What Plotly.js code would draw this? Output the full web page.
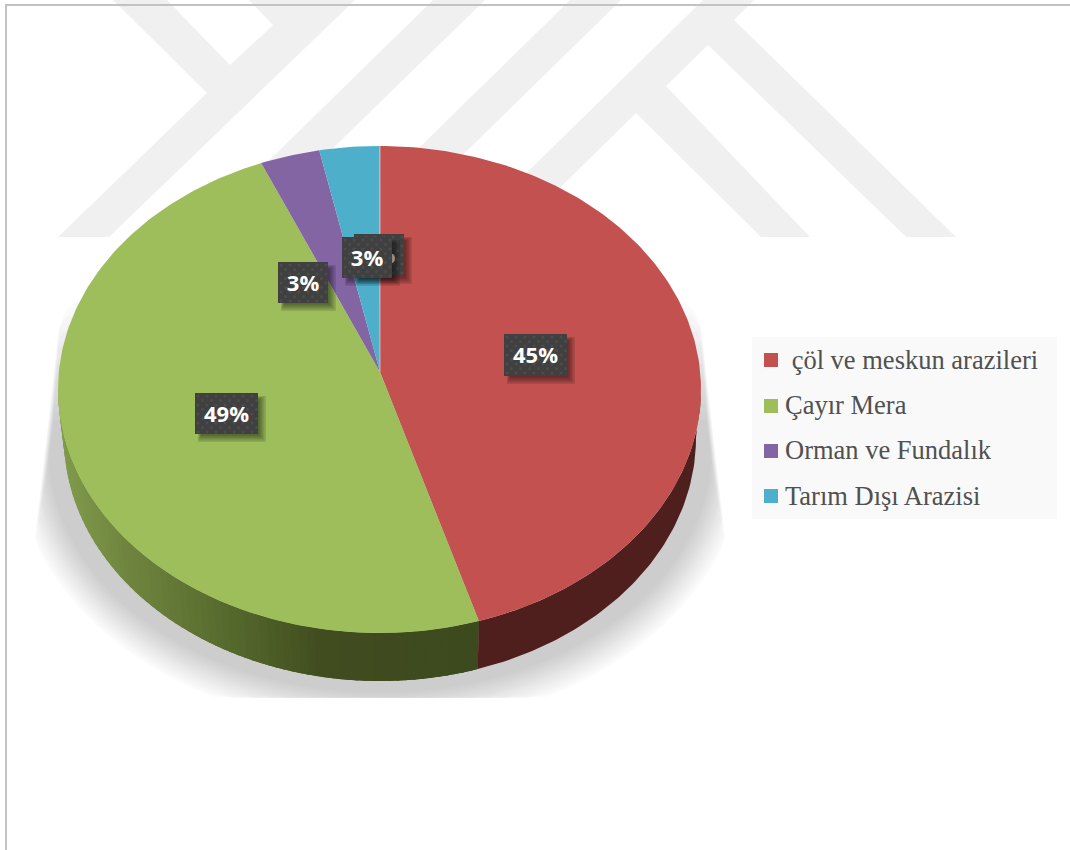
<!DOCTYPE html>
<html>
<head>
<meta charset="utf-8">
<script src="https://cdn.plot.ly/plotly-3.0.1.min.js"></script>
<style>html,body{margin:0;padding:0;background:#fff}#chart{width:1070px;height:850px}</style>
</head>
<body>
<div id="chart"></div>
<script>
// Land use shares
const categories = ['\u00A0çöl ve meskun arazileri', 'Çayır Mera', 'Orman ve Fundalık', 'Tarım Dışı Arazisi'];
const shares = [45, 49, 3, 3];
const sliceColors = ['#c25150', '#9ebe5c', '#8465a4', '#4dafca'];
const percentLabels = ['45%', '49%', '3%', '3%'];
const hiddenLabel = '0%';

// Pie drawn as a tilted disc, in pixel units of the hidden axes
const top_ = {cx: 379.5, cy: 389.5, a: 321.5, b: 243.5};
const rim = {cx: 380, cy: 438, a: 316, b: 243};
const hub = {x: 380, y: 372};
const rad = d => d * Math.PI / 180;
const onEllipse = (e, deg) => [e.cx + e.a * Math.sin(rad(deg)), e.cy - e.b * Math.cos(rad(deg))];

const traces = [];
const base = {type: 'scatter', mode: 'lines', hoverinfo: 'skip', showlegend: false};
const poly = (pts, fill) => traces.push(Object.assign({}, base, {
  x: pts.map(p => p[0]), y: pts.map(p => p[1]), fill: 'toself', fillcolor: fill,
  line: {color: 'rgba(0,0,0,0)', width: 0}
}));

// Soft ground shadow: nested ellipses stepping from white to grey, clipped to the floor
const LAYERS = 16;
for (let k = 0; k < LAYERS; k++) {
  const f = k / (LAYERS - 1);
  const d = 20 - 34 * f;
  const yTop = 300 + 120 * f;
  const inset = 5 * f;
  const grey = Math.round(251 - (251 - 205) * f);
  const pts = [];
  for (let t = 0; t <= 360; t += 3) {
    let x = 380 + (345 + d) * Math.sin(rad(t));
    let y = 452 - (255 + d) * Math.cos(rad(t));
    y = Math.min(697.5, Math.max(yTop, y));
    const clipL = 62 - (y - 300) * 25 / 220 + inset;
    const clipR = 698 + (y - 300) * 25 / 220 - inset;
    x = Math.min(clipR, Math.max(clipL, x));
    pts.push([x, y]);
  }
  poly(pts, 'rgb(' + grey + ',' + grey + ',' + grey + ')');
}

// Colour of the green side wall runs from lit to dark along x
const wallStops = [[60, [130, 156, 76]], [120, [112, 134, 63]], [220, [86, 106, 45]], [313, [65, 76, 31]], [480, [60, 74, 29]]];
function wallGreen(x) {
  for (let i = 1; i < wallStops.length; i++) {
    if (x <= wallStops[i][0]) {
      const [x0, c0] = wallStops[i - 1], [x1, c1] = wallStops[i];
      const u = Math.max(0, (x - x0) / (x1 - x0));
      return 'rgb(' + c0.map((c, j) => Math.round(c + (c1[j] - c) * u)).join(',') + ')';
    }
  }
  return 'rgb(60,74,29)';
}

// Slice boundaries in degrees, clockwise from twelve o'clock
const total = shares.reduce((s, v) => s + v, 0);
const edges = [0];
shares.forEach(v => edges.push(edges[edges.length - 1] + v / total * 360));

// Side wall, only the front half of the disc shows.
// The green bands run from the left tip inward and each one overlaps the next, so no seams appear.
function arcBand(from, to) {
  const pts = [];
  for (let t = from; t < to; t += 1) pts.push(onEllipse(top_, t));
  pts.push(onEllipse(top_, to));
  for (let t = to; t > from; t -= 1) pts.push(onEllipse(rim, t));
  pts.push(onEllipse(rim, from), onEllipse(top_, from));
  return pts;
}
for (let t = edges[1]; t < 270; t += 1.5) {
  const e = Math.min(t + 1.5, 270);
  const lead = Math.max(t - 2, edges[1]);
  poly(arcBand(lead, e), wallGreen(onEllipse(rim, (t + e) / 2)[0]));
}
poly(arcBand(90, edges[1]), '#4f1f1e');

// Top face slices
shares.forEach((v, i) => {
  const pts = [[hub.x, hub.y]];
  for (let t = edges[i]; t < edges[i + 1]; t += 1) pts.push(onEllipse(top_, t));
  pts.push(onEllipse(top_, edges[i + 1]), [hub.x, hub.y]);
  poly(pts, sliceColors[i]);
});

// Hairline of the empty slice at twelve o'clock
traces.push(Object.assign({}, base, {
  x: [hub.x, hub.x], y: [hub.y, top_.cy - top_.b],
  line: {color: 'rgba(255,235,235,0.55)', width: 1}
}));

// Percentage tags: shadow, dotted dark box, white text
function tag(text, x0, y0, x1, y1) {
  for (let s = 0; s < 5; s++) {
    const o = 6 - s * 0.4, g = 3 - s * 1.2;
    const r = [x0 + o - g, y0 + o - g, x1 + o + g - 1, y1 + o + g - 1];
    poly([[r[0], r[1]], [r[2], r[1]], [r[2], r[3]], [r[0], r[3]], [r[0], r[1]]], 'rgba(0,0,0,0.11)');
  }
  poly([[x0, y0], [x1, y0], [x1, y1], [x0, y1], [x0, y0]], '#404040');
  const dx = [], dy = [];
  let row = 0;
  for (let y = y0 + 3; y < y1; y += 4.5, row++) {
    for (let x = x0 + 3 + (row % 2 ? 4.5 : 0); x < x1; x += 9) { dx.push(x); dy.push(y); }
  }
  traces.push(Object.assign({}, base, {
    mode: 'markers', x: dx, y: dy,
    marker: {size: 3, color: '#555555', opacity: 0.6, line: {width: 0}}
  }));
  traces.push(Object.assign({}, base, {
    mode: 'text', x: [(x0 + x1) / 2], y: [(y0 + y1) / 2 + 2.5], text: [text],
    textposition: 'middle center',
    textfont: {family: '"Open Sans", sans-serif', size: 22, color: '#ffffff', weight: 700}
  }));
}
tag(hiddenLabel, 354, 234, 404, 276);
tag(percentLabels[0], 504, 334, 567, 376);
tag(percentLabels[1], 195, 393, 258, 434);
tag(percentLabels[2], 278, 262, 328, 303);
tag(percentLabels[3], 342, 237, 392, 278);

// Legend column
const legendY = [360, 406, 451, 496];
const legendTextY = [360, 405, 450, 496];
traces.push(Object.assign({}, base, {
  mode: 'markers', x: legendY.map(() => 771), y: legendY,
  marker: {symbol: 'square', size: 14, color: sliceColors, line: {width: 0}}
}));
const annotations = categories.map((name, i) => ({
  xref: 'x', yref: 'y', x: 783.5, y: legendTextY[i], text: name, showarrow: false,
  xanchor: 'left', yanchor: 'middle', align: 'left', borderpad: 0,
  font: {family: '"Liberation Serif", serif', size: 26.5, color: '#505050'}
}));

// Faint emblem behind the chart
const emblem = [
  [[113,0],[167,0],[230,65],[273,25],[249,0],[355,0],[109,237],[58,237],[207,93]],
  [[433,0],[485,0],[242,237],[191,237]],
  [[570,0],[621,0],[379,237],[328,237]],
  [[703,0],[754,0],[734,20],[956,237],[906,237],[708,45],[666,86],[810,237],[761,237],[636,113],[510,237],[461,237]]
];
const shapes = emblem.map(p => ({
  type: 'path', layer: 'below', xref: 'x', yref: 'y',
  path: 'M' + p.map(q => q.join(',')).join('L') + 'Z',
  fillcolor: '#f0f0f0', line: {width: 0}
}));
shapes.push({type: 'rect', layer: 'below', xref: 'x', yref: 'y', x0: 752, x1: 1057, y0: 337, y1: 519, fillcolor: '#f9f9f9', line: {width: 0}});
shapes.push({type: 'line', layer: 'below', xref: 'x', yref: 'y', x0: 5, x1: 1070, y0: 5, y1: 5, line: {color: '#c2c2c2', width: 2}});
shapes.push({type: 'line', layer: 'below', xref: 'x', yref: 'y', x0: 6, x1: 6, y0: 4, y1: 850, line: {color: '#c2c2c2', width: 2}});

const hiddenAxis = {visible: false, fixedrange: true, showgrid: false, zeroline: false};
Plotly.newPlot('chart', traces, {
  width: 1070, height: 850,
  margin: {l: 0, r: 0, t: 0, b: 0},
  paper_bgcolor: '#ffffff', plot_bgcolor: 'rgba(0,0,0,0)',
  showlegend: false, hovermode: false,
  xaxis: Object.assign({range: [0, 1070]}, hiddenAxis),
  yaxis: Object.assign({range: [850, 0]}, hiddenAxis),
  shapes: shapes, annotations: annotations
}, {displayModeBar: false, responsive: false});
</script>
</body>
</html>
